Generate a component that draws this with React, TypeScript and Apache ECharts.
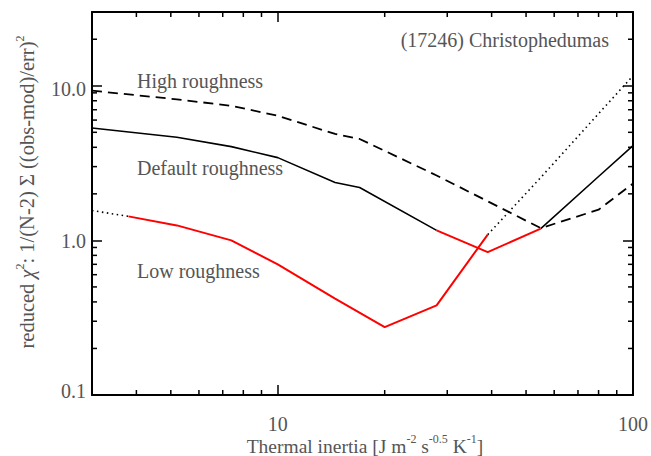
import React, { useEffect, useRef } from 'react';
import * as echarts from 'echarts';

// Thermal inertia grid points (x) and reduced chi^2 values (y) per roughness model
const lowTI = [3, 3.8, 5.2, 7.4, 10, 14.5, 20, 28, 39, 55, 80, 100];
const lowChi2 = [1.56, 1.43, 1.25, 1.0, 0.7, 0.42, 0.275, 0.38, 1.09, 2.55, 6.6, 11.6];
const defaultTI = [3, 5.2, 7.4, 10, 14.5, 17, 28, 39, 55, 80, 100];
const defaultChi2 = [5.33, 4.65, 4.04, 3.43, 2.37, 2.2, 1.16, 0.84, 1.19, 2.59, 4.1];
const highTI = [3, 5.2, 7.4, 10, 14.5, 17, 28, 39, 55, 80, 100];
const highChi2 = [9.3, 8.17, 7.42, 6.4, 4.88, 4.53, 2.63, 1.79, 1.2, 1.58, 2.33];

// Ranges of thermal inertia drawn in red (acceptable solutions)
const lowRedRange = [3.8, 39];
const defaultRedRange = [28, 55];

// Axis ranges and tick values
const X_MIN = 3;
const X_MAX = 100;
const Y_MIN = 0.1;
const Y_MAX = 30;
const xTickLabels = ['10', '100'];
const xTickValues = [10, 100];
const yTickLabels = ['0.1', '1.0', '10.0'];
const yTickValues = [0.1, 1, 10];
const xMinorTicks = [4, 5, 6, 7, 8, 9, 20, 30, 40, 50, 60, 70, 80, 90];
const yMinorTicks = [0.2, 0.3, 0.4, 0.5, 0.6, 0.7, 0.8, 0.9, 2, 3, 4, 5, 6, 7, 8, 9, 20];

const FONT = '"Liberation Serif", "Times New Roman", serif';
const TEXT_COLOR = '#555555';
const FS = 20;

function pairs(xs: number[], ys: number[]) {
  return xs.map((x, i) => [x, ys[i]]);
}

function split(xs: number[], ys: number[], range: number[]) {
  const all = pairs(xs, ys);
  const before = all.filter((p) => p[0] <= range[0]);
  const inside = all.filter((p) => p[0] >= range[0] && p[0] <= range[1]);
  const after = all.filter((p) => p[0] >= range[1]);
  return { before, inside, after };
}

function matchIndex(v: number, values: number[]) {
  for (let i = 0; i < values.length; i++) {
    if (Math.abs(v - values[i]) / values[i] < 1e-6) return i;
  }
  return -1;
}

export default function App() {
  const ref = useRef<HTMLDivElement>(null);

  useEffect(() => {
    if (!ref.current) return;
    const chart = echarts.init(ref.current, undefined, { renderer: 'svg' });

    const low = split(lowTI, lowChi2, lowRedRange);
    const def = split(defaultTI, defaultChi2, defaultRedRange);

    const blackSolid = { color: '#000', width: 1.6, type: 'solid' as const };
    const red = { color: '#ff0000', width: 2, type: 'solid' as const };
    const dotted = { color: '#000', width: 1.6, type: [1.5, 3.5] as any };
    const dashed = { color: '#000', width: 1.8, type: [10, 6] as any };

    const lineSeries = (data: number[][], style: any, z = 3) => ({
      type: 'line',
      data,
      showSymbol: false,
      symbol: 'none',
      lineStyle: style,
      silent: true,
      z,
      clip: true,
    });

    const tickStyle = { stroke: '#000', lineWidth: 1.5 };

    const baseAxisLine = { show: true, onZero: false, lineStyle: { color: '#000', width: 2 } };
    const baseTick = { show: true, inside: true, length: 10, lineStyle: { color: '#000', width: 1.5 } };

    const YT_FS = 20.5;
    const XT_FS = 19.5;
    const sub = { fontSize: 12, fontFamily: FONT, fill: TEXT_COLOR, lineHeight: 12, verticalAlign: 'top' };
    const mainY = { fontSize: YT_FS, fontFamily: FONT, fill: TEXT_COLOR, lineHeight: 26 };
    const italY = { fontSize: YT_FS, fontFamily: FONT, fill: TEXT_COLOR, lineHeight: 26, fontStyle: 'italic' };
    const mainX = { fontSize: XT_FS, fontFamily: FONT, fill: TEXT_COLOR, lineHeight: 26 };

    const option: any = {
      animation: false,
      backgroundColor: '#ffffff',
      grid: { left: 92, right: 18, top: 12, bottom: 61, containLabel: false },
      xAxis: [
        {
          type: 'log',
          logBase: 10,
          min: X_MIN,
          max: X_MAX,
          position: 'bottom',
          axisLine: baseAxisLine,
          axisTick: baseTick,
          splitLine: { show: false },
          axisLabel: {
            show: true,
            margin: 19,
            fontSize: FS,
            fontFamily: FONT,
            color: TEXT_COLOR,
            showMinLabel: true,
            showMaxLabel: true,
            formatter: (v: number) => {
              const i = matchIndex(v, xTickValues);
              return i < 0 ? '' : xTickLabels[i];
            },
          },
        },
        {
          type: 'log',
          logBase: 10,
          min: X_MIN,
          max: X_MAX,
          position: 'top',
          axisLine: baseAxisLine,
          axisTick: baseTick,
          splitLine: { show: false },
          axisLabel: { show: false },
        },
      ],
      yAxis: [
        {
          type: 'log',
          logBase: 10,
          min: Y_MIN,
          max: Y_MAX,
          position: 'left',
          axisLine: baseAxisLine,
          axisTick: baseTick,
          splitLine: { show: false },
          axisLabel: {
            show: true,
            margin: 6,
            fontSize: FS,
            fontFamily: FONT,
            color: TEXT_COLOR,
            showMinLabel: true,
            showMaxLabel: true,
            formatter: (v: number) => {
              const i = matchIndex(v, yTickValues);
              if (i < 0) return '';
              const key = i === 0 ? 'lo' : i === yTickValues.length - 1 ? 'hi' : 'mid';
              return '{' + key + '|' + yTickLabels[i] + '}';
            },
            rich: {
              lo: { fontSize: FS, fontFamily: FONT, color: TEXT_COLOR, padding: [0, 0, 9, 0] },
              mid: { fontSize: FS, fontFamily: FONT, color: TEXT_COLOR, padding: [1, 0, 0, 0] },
              hi: { fontSize: FS, fontFamily: FONT, color: TEXT_COLOR, padding: [7, 0, 0, 0] },
            },
          },
        },
        {
          type: 'log',
          logBase: 10,
          min: Y_MIN,
          max: Y_MAX,
          position: 'right',
          axisLine: baseAxisLine,
          axisTick: baseTick,
          splitLine: { show: false },
          axisLabel: { show: false },
        },
      ],
      series: [
        lineSeries(pairs(highTI, highChi2), dashed),
        lineSeries(def.before, blackSolid),
        lineSeries(def.inside, red, 4),
        lineSeries(def.after, blackSolid),
        lineSeries(low.before, dotted),
        lineSeries(low.inside, red, 4),
        lineSeries(low.after, dotted),
        {
          type: 'custom',
          coordinateSystem: 'cartesian2d',
          silent: true,
          clip: false,
          z: 6,
          data: xMinorTicks.map((v) => [v, 1]),
          renderItem: (_p: any, api: any) => {
            const v = api.value(0);
            const b = api.coord([v, Y_MIN]);
            const t = api.coord([v, Y_MAX]);
            return {
              type: 'group',
              children: [
                { type: 'line', shape: { x1: b[0], y1: b[1], x2: b[0], y2: b[1] - 5 }, style: tickStyle },
                { type: 'line', shape: { x1: t[0], y1: t[1], x2: t[0], y2: t[1] + 5 }, style: tickStyle },
              ],
            };
          },
        },
        {
          type: 'custom',
          coordinateSystem: 'cartesian2d',
          silent: true,
          clip: false,
          z: 6,
          data: yMinorTicks.map((v) => [10, v]),
          renderItem: (_p: any, api: any) => {
            const v = api.value(1);
            const l = api.coord([X_MIN, v]);
            const r = api.coord([X_MAX, v]);
            return {
              type: 'group',
              children: [
                { type: 'line', shape: { x1: l[0], y1: l[1], x2: l[0] + 5, y2: l[1] }, style: tickStyle },
                { type: 'line', shape: { x1: r[0], y1: r[1], x2: r[0] - 5, y2: r[1] }, style: tickStyle },
              ],
            };
          },
        },
      ],
      graphic: [
        {
          type: 'text',
          x: 137,
          y: 81,
          silent: true,
          style: { text: 'High roughness', fontSize: FS, fontFamily: FONT, fill: TEXT_COLOR, align: 'left', verticalAlign: 'middle' },
        },
        {
          type: 'text',
          x: 137,
          y: 168,
          silent: true,
          style: { text: 'Default roughness', fontSize: FS, fontFamily: FONT, fill: TEXT_COLOR, align: 'left', verticalAlign: 'middle' },
        },
        {
          type: 'text',
          x: 137,
          y: 271,
          silent: true,
          style: { text: 'Low roughness', fontSize: FS, fontFamily: FONT, fill: TEXT_COLOR, align: 'left', verticalAlign: 'middle' },
        },
        {
          type: 'text',
          x: 609,
          y: 40,
          silent: true,
          style: { text: '(17246) Christophedumas', fontSize: FS, fontFamily: FONT, fill: TEXT_COLOR, align: 'right', verticalAlign: 'middle' },
        },
        {
          type: 'text',
          x: 365,
          y: 446,
          silent: true,
          style: {
            text: '{a|Thermal inertia [J m}{s|-2}{a| s}{s|-0.5}{a| K}{s|-1}{a|]}',
            rich: { a: mainX, s: sub },
            align: 'center',
            verticalAlign: 'middle',
            fontSize: XT_FS,
            fontFamily: FONT,
            fill: TEXT_COLOR,
          },
        },
        {
          type: 'text',
          x: 27,
          y: 192,
          rotation: Math.PI / 2,
          silent: true,
          style: {
            text: '{a|reduced }{i|χ}{s|2}{a|: 1/(N-2) Σ ((obs-mod)/err)}{s|2}',
            rich: { a: mainY, s: sub, i: italY },
            align: 'center',
            verticalAlign: 'middle',
            fontSize: YT_FS,
            fontFamily: FONT,
            fill: TEXT_COLOR,
          },
        },
      ],
    };

    chart.setOption(option);
    return () => {
      chart.dispose();
    };
  }, []);

  return (
    <div
      ref={ref}
      style={{ position: 'fixed', left: 0, top: 0, width: 651, height: 456, background: '#fff' }}
    />
  );
}
